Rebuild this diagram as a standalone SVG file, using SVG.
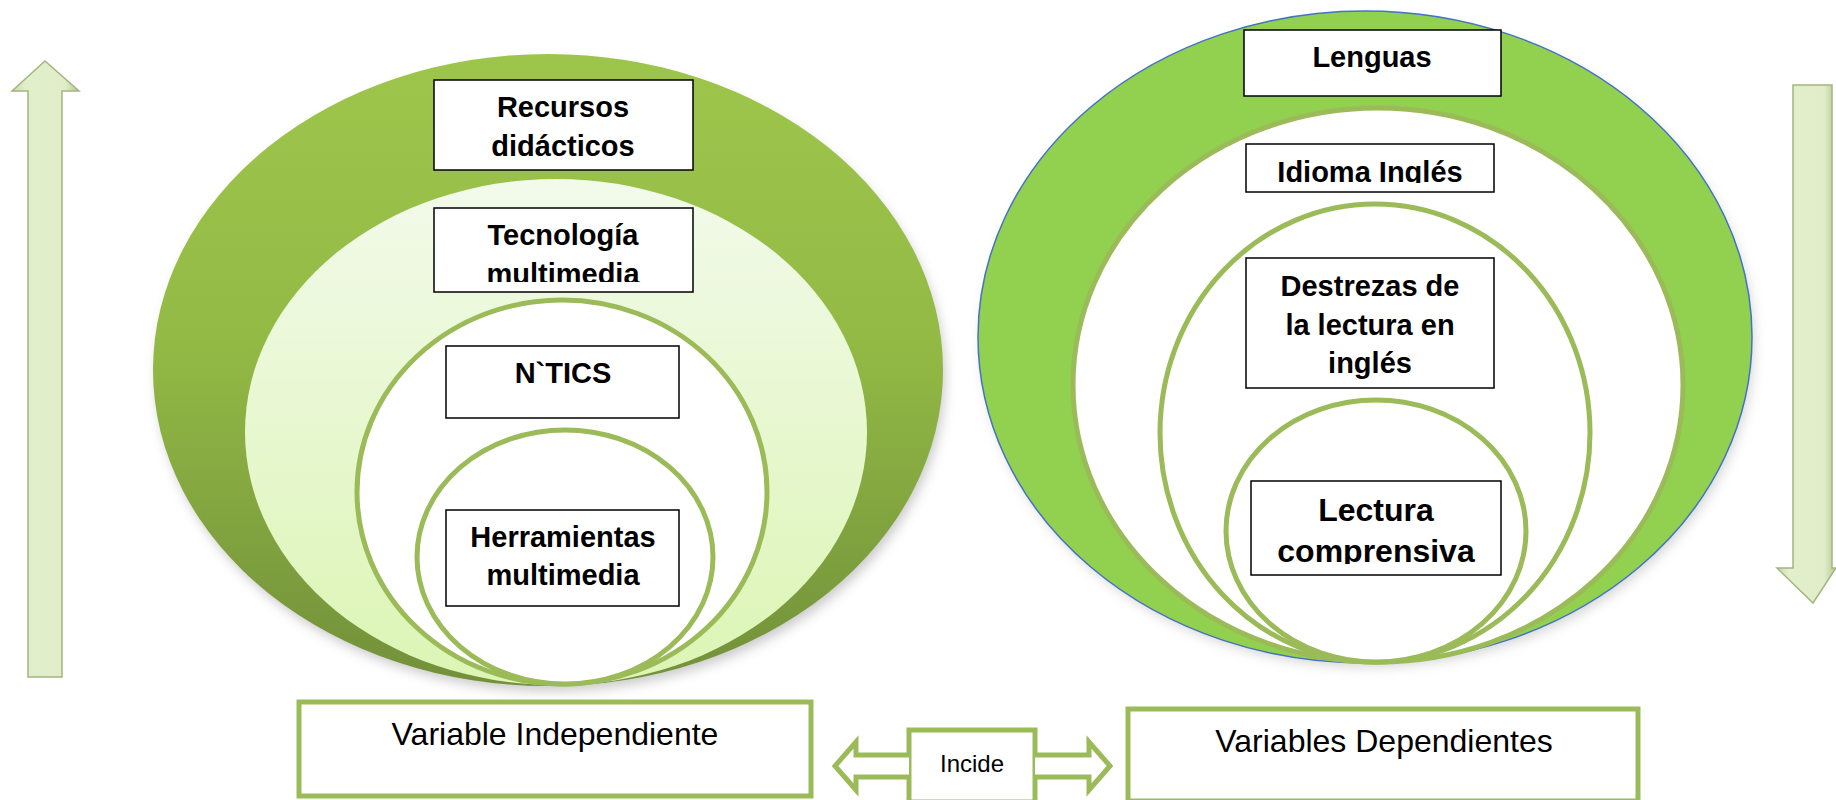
<svg xmlns="http://www.w3.org/2000/svg" width="1836" height="800" viewBox="0 0 1836 800">
<defs>
<style>
.lbl{font-family:"Liberation Sans",Arial,sans-serif;font-weight:bold;font-size:29px;fill:#000;text-anchor:middle}
.reg{font-family:"Liberation Sans",Arial,sans-serif;font-size:32px;fill:#000;text-anchor:middle}
.box{fill:#fff;stroke:#000;stroke-width:1.5}
.ring{fill:#fff;stroke:#9BBB59;stroke-width:5}
.gbox{fill:#fff;stroke:#9BBB59;stroke-width:5}
.varr{fill:url(#arrG);stroke:#A3B57F;stroke-width:1.5}
.dbl{fill:#fff;stroke:#9BBB59;stroke-width:5;stroke-linejoin:miter}
</style>
<linearGradient id="outerL" x1="0" y1="0" x2="0" y2="1">
<stop offset="0" stop-color="#9EC54B"/>
<stop offset="0.45" stop-color="#93BA45"/>
<stop offset="1" stop-color="#72903A"/>
</linearGradient>
<linearGradient id="innerL" x1="0" y1="0" x2="0" y2="1">
<stop offset="0" stop-color="#F2FAEA"/>
<stop offset="1" stop-color="#DCF5B4"/>
</linearGradient>
<linearGradient id="arrG" x1="0" y1="0" x2="1" y2="0">
<stop offset="0" stop-color="#C9D9AC"/>
<stop offset="0.2" stop-color="#E2EFCB"/>
<stop offset="0.8" stop-color="#E0EDC8"/>
<stop offset="1" stop-color="#B5C596"/>
</linearGradient>
<filter id="sh" x="-20%" y="-20%" width="140%" height="140%">
<feGaussianBlur stdDeviation="6"/>
</filter>
<clipPath id="cTec"><rect x="434" y="208" width="259" height="74"/></clipPath>
<clipPath id="cIdi"><rect x="1246" y="144" width="248" height="39"/></clipPath>
<clipPath id="cLec"><rect x="1251" y="481" width="250" height="83"/></clipPath>
</defs>

<g id="left-diagram">
<ellipse cx="551" cy="377" rx="394" ry="314" fill="#8A8A8A" opacity="0.45" filter="url(#sh)"/>
<g id="n-recursos">
<ellipse cx="548" cy="370" rx="395" ry="316" fill="url(#outerL)"/>
<rect class="box" x="434" y="80" width="259" height="90"/>
<text class="lbl" x="563" y="117">Recursos</text>
<text class="lbl" x="563" y="156">didácticos</text>
</g>
<g id="n-tecnologia">
<ellipse cx="556" cy="432" rx="311" ry="253" fill="url(#innerL)"/>
<rect class="box" x="434" y="208" width="259" height="84"/>
<g clip-path="url(#cTec)">
<text class="lbl" x="563" y="245">Tecnología</text>
<text class="lbl" x="563" y="284">multimedia</text>
</g>
</g>
<g id="n-ntics">
<ellipse class="ring" cx="562" cy="492" rx="205" ry="192"/>
<rect class="box" x="446" y="346" width="233" height="72"/>
<text class="lbl" x="563" y="383">N`TICS</text>
</g>
<g id="n-herramientas">
<ellipse class="ring" cx="565" cy="557" rx="148" ry="127"/>
<rect class="box" x="446" y="510" width="233" height="96"/>
<text class="lbl" x="563" y="547">Herramientas</text>
<text class="lbl" x="563" y="585">multimedia</text>
</g>
</g>

<g id="right-diagram">
<ellipse cx="1368" cy="343" rx="386" ry="324" fill="#8A8A8A" opacity="0.35" filter="url(#sh)"/>
<g id="n-lenguas">
<ellipse cx="1365" cy="337" rx="387" ry="326" fill="#92D050" stroke="#4472C4" stroke-width="1.5"/>
<rect class="box" x="1244" y="30" width="257" height="66"/>
<text class="lbl" x="1372" y="67">Lenguas</text>
</g>
<g id="n-idioma">
<ellipse class="ring" cx="1378" cy="385" rx="305" ry="277"/>
<rect class="box" x="1246" y="144" width="248" height="48"/>
<g clip-path="url(#cIdi)">
<text class="lbl" x="1370" y="182">Idioma Inglés</text>
</g>
</g>
<g id="n-destrezas">
<ellipse class="ring" cx="1375" cy="433" rx="215" ry="229"/>
<rect class="box" x="1246" y="258" width="248" height="130"/>
<text class="lbl" x="1370" y="296">Destrezas de</text>
<text class="lbl" x="1370" y="335">la lectura en</text>
<text class="lbl" x="1370" y="373">inglés</text>
</g>
<g id="n-lectura">
<ellipse class="ring" cx="1376" cy="531" rx="150" ry="131"/>
<rect class="box" x="1251" y="481" width="250" height="94"/>
<g clip-path="url(#cLec)">
<text class="lbl" x="1376" y="521" style="font-size:32px">Lectura</text>
<text class="lbl" x="1376" y="562" style="font-size:32px">comprensiva</text>
</g>
</g>
</g>

<g id="n-var-indep">
<rect class="gbox" x="299" y="702" width="512" height="94"/>
<text class="reg" x="555" y="745">Variable Independiente</text>
</g>
<g id="n-var-dep">
<rect class="gbox" x="1128" y="709" width="510" height="92"/>
<text class="reg" x="1384" y="752">Variables Dependientes</text>
</g>
<g id="n-incide">
<rect class="gbox" x="909" y="730" width="126" height="72"/>
<text class="reg" x="972" y="772" style="font-size:24px">Incide</text>
</g>

<g id="connectors">
<path class="dbl" d="M909 755 L856 755 L856 742 L835 766 L856 790 L856 777 L909 777"/>
<path class="dbl" d="M1035 755 L1089 755 L1089 742 L1110 766 L1089 790 L1089 777 L1035 777"/>
<path class="varr" d="M28 677 L28 91 L12 91 L45 61 L79 91 L62 91 L62 677 Z"/>
<path class="varr" d="M1793 85 L1832 85 L1832 568 L1836 568 L1813 603 L1777 568 L1793 568 Z"/>
</g>
</svg>
